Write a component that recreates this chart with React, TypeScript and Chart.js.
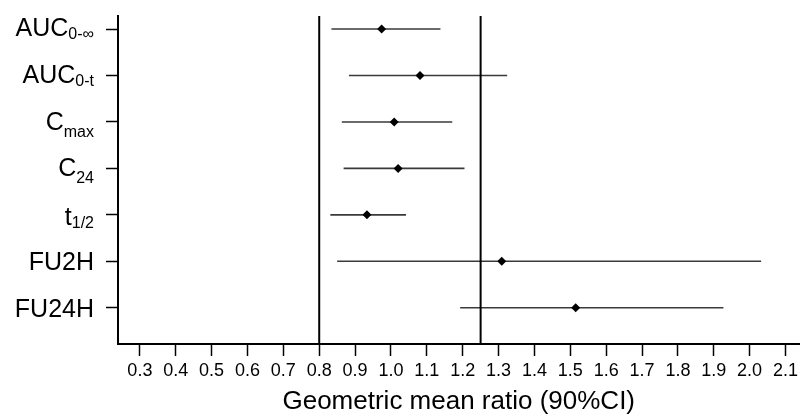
import React, { useEffect, useRef } from "react";
import { Chart, registerables } from "chart.js";

Chart.register(...registerables);

// ---- data ----
const labelMain = ["AUC", "AUC", "C", "C", "t", "FU2H", "FU24H"];
const labelSub = ["0-∞", "0-t", "max", "24", "1/2", "", ""];
const estimates = [0.974, 1.081, 1.009, 1.02, 0.933, 1.309, 1.515];
const lowerCI = [0.834, 0.883, 0.863, 0.868, 0.831, 0.85, 1.193];
const upperCI = [1.138, 1.324, 1.171, 1.205, 1.042, 2.032, 1.927];
const referenceLines = [0.8, 1.25];
const xTicks = [0.3, 0.4, 0.5, 0.6, 0.7, 0.8, 0.9, 1.0, 1.1, 1.2, 1.3, 1.4, 1.5, 1.6, 1.7, 1.8, 1.9, 2.0, 2.1];
const xTitle = "Geometric mean ratio (90%CI)";

// ---- style ----
const FAMILY = "'Liberation Sans', Arial, sans-serif";
const MAIN_SIZE = 25;
const SUB_SIZE = 16;
const X_MIN = 0.239;
const X_MAX = 2.139;
const Y_MIN = 0.22;
const Y_MAX = 7.28;
// vertical offsets (px) of main baseline and subscript baseline relative to tick
const LABEL_OFFSETS = [
  { main: 7, sub: 10 },
  { main: 7.5, sub: 11 },
  { main: 8.5, sub: 15 },
  { main: 8, sub: 15 },
  { main: 10.5, sub: 13 },
  { main: 9, sub: 9 },
  { main: 9, sub: 9 },
];

const rowPos = labelMain.map((_, i) => labelMain.length - i);

const yLabelPlugin = {
  id: "yLabelsWithSub",
  afterDraw(chart: any) {
    const ctx = chart.ctx as CanvasRenderingContext2D;
    const ys = chart.scales.y;
    const right = ys.right - 24;
    ctx.save();
    ctx.fillStyle = "#000";
    ctx.textAlign = "left";
    ctx.textBaseline = "alphabetic";
    labelMain.forEach((m, i) => {
      const py = ys.getPixelForValue(rowPos[i]);
      const sub = labelSub[i];
      ctx.font = `${SUB_SIZE}px ${FAMILY}`;
      const sw = sub ? ctx.measureText(sub).width : 0;
      ctx.font = `${MAIN_SIZE}px ${FAMILY}`;
      const mw = ctx.measureText(m).width;
      const x0 = right - sw - mw;
      const off = LABEL_OFFSETS[i];
      ctx.fillText(m, x0, py + off.main);
      if (sub) {
        ctx.font = `${SUB_SIZE}px ${FAMILY}`;
        ctx.fillText(sub, x0 + mw, py + off.sub);
      }
    });
    ctx.restore();
  },
};

export default function App() {
  const ref = useRef<HTMLCanvasElement | null>(null);

  useEffect(() => {
    if (!ref.current) return;

    const pointDs = {
      label: "estimate",
      data: estimates.map((v, i) => ({ x: v, y: rowPos[i] })),
      showLine: false,
      pointStyle: "rectRot",
      pointRadius: 4.5,
      pointBackgroundColor: "#000",
      pointBorderColor: "#000",
      pointBorderWidth: 0,
    };
    const refDs = referenceLines.map((r) => ({
      label: "ref " + r,
      data: [
        { x: r, y: Y_MIN },
        { x: r, y: Y_MAX },
      ],
      showLine: true,
      borderColor: "#000",
      borderWidth: 2,
      pointRadius: 0,
    }));
    const ciDs = lowerCI.map((lo, i) => ({
      label: "ci " + i,
      data: [
        { x: lo, y: rowPos[i] },
        { x: upperCI[i], y: rowPos[i] },
      ],
      showLine: true,
      borderColor: "#3a3a3a",
      borderWidth: 1.6,
      pointRadius: 0,
    }));

    const chart = new Chart(ref.current, {
      type: "scatter",
      data: { datasets: [pointDs, ...refDs, ...ciDs] as any },
      plugins: [yLabelPlugin],
      options: {
        animation: false,
        responsive: false,
        devicePixelRatio: 1,
        layout: { padding: { top: 16, right: 0, bottom: 0, left: 0 }, autoPadding: false },
        plugins: { legend: { display: false }, tooltip: { enabled: false } },
        scales: {
          x: {
            type: "linear",
            min: X_MIN,
            max: X_MAX,
            afterBuildTicks: (s: any) => {
              s.ticks = xTicks.map((v) => ({ value: v }));
            },
            afterFit: (s: any) => {
              s.height = 71;
            },
            grid: {
              drawOnChartArea: false,
              drawTicks: true,
              tickLength: 12,
              tickWidth: 1.5,
              tickColor: "#000",
            },
            border: { display: true, color: "#000", width: 2 },
            ticks: {
              autoSkip: false,
              maxRotation: 0,
              padding: 4,
              color: "#000",
              font: { family: FAMILY, size: 18 },
              callback: (v: any) => Number(v).toFixed(1),
            },
            title: {
              display: true,
              text: xTitle,
              color: "#000",
              font: { family: FAMILY, size: 26, lineHeight: 1 },
              padding: { top: 0, bottom: 0 },
            },
          },
          y: {
            type: "linear",
            min: Y_MIN,
            max: Y_MAX,
            afterBuildTicks: (s: any) => {
              s.ticks = rowPos.map((v) => ({ value: v }));
            },
            afterFit: (s: any) => {
              s.width = 118;
            },
            grid: {
              drawOnChartArea: false,
              drawTicks: true,
              tickLength: 12,
              tickWidth: 1.5,
              tickColor: "#000",
            },
            border: { display: true, color: "#000", width: 2 },
            ticks: { display: false },
          },
        },
      } as any,
    });
    return () => chart.destroy();
  }, []);

  return (
    <div style={{ position: "fixed", left: 0, top: 0, width: 802, height: 415, background: "#fff" }}>
      <canvas ref={ref} width={802} height={415} style={{ width: 802, height: 415, display: "block" }} />
    </div>
  );
}
